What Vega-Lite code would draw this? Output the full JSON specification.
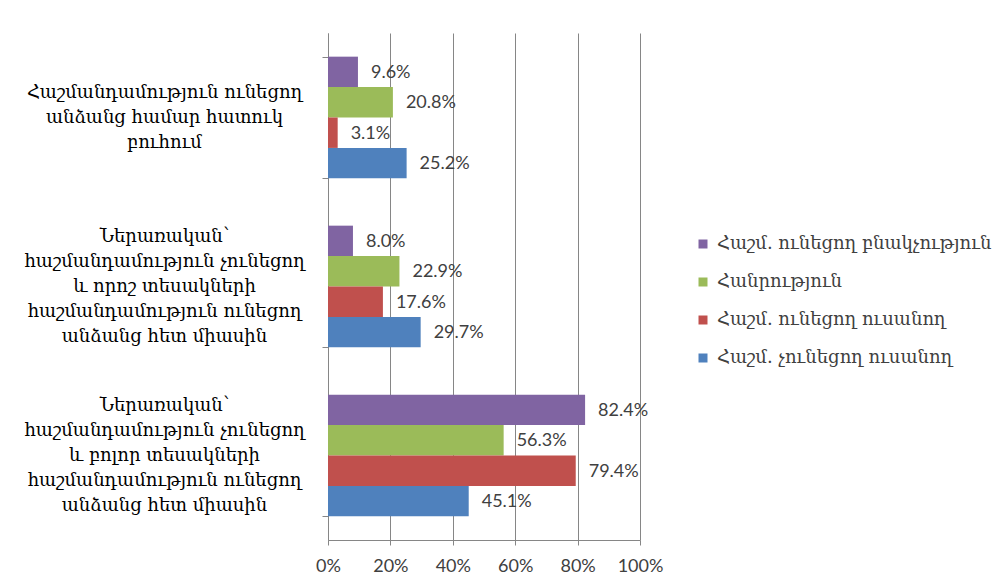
{
  "$schema": "https://vega.github.io/schema/vega-lite/v6.json",
  "width": 312,
  "height": 507,
  "autosize": "none",
  "padding": {"left": 328, "top": 33, "right": 361, "bottom": 44},
  "background": "white",
  "config": {"view": {"stroke": null}},
  "data": {
    "values": [
      {"cat": "Հաշմանդամություն ունեցող|անձանց համար հատուկ|բուհում", "series": "Հաշմ. ունեցող բնակչություն", "value": 0.096},
      {"cat": "Հաշմանդամություն ունեցող|անձանց համար հատուկ|բուհում", "series": "Հանրություն", "value": 0.208},
      {"cat": "Հաշմանդամություն ունեցող|անձանց համար հատուկ|բուհում", "series": "Հաշմ. ունեցող ուսանող", "value": 0.031},
      {"cat": "Հաշմանդամություն ունեցող|անձանց համար հատուկ|բուհում", "series": "Հաշմ. չունեցող ուսանող", "value": 0.252},
      {"cat": "Ներառական՝|հաշմանդամություն չունեցող|և որոշ տեսակների|հաշմանդամություն ունեցող|անձանց հետ միասին", "series": "Հաշմ. ունեցող բնակչություն", "value": 0.08},
      {"cat": "Ներառական՝|հաշմանդամություն չունեցող|և որոշ տեսակների|հաշմանդամություն ունեցող|անձանց հետ միասին", "series": "Հանրություն", "value": 0.229},
      {"cat": "Ներառական՝|հաշմանդամություն չունեցող|և որոշ տեսակների|հաշմանդամություն ունեցող|անձանց հետ միասին", "series": "Հաշմ. ունեցող ուսանող", "value": 0.176},
      {"cat": "Ներառական՝|հաշմանդամություն չունեցող|և որոշ տեսակների|հաշմանդամություն ունեցող|անձանց հետ միասին", "series": "Հաշմ. չունեցող ուսանող", "value": 0.297},
      {"cat": "Ներառական՝|հաշմանդամություն չունեցող|և բոլոր տեսակների|հաշմանդամություն ունեցող|անձանց հետ միասին", "series": "Հաշմ. ունեցող բնակչություն", "value": 0.824},
      {"cat": "Ներառական՝|հաշմանդամություն չունեցող|և բոլոր տեսակների|հաշմանդամություն ունեցող|անձանց հետ միասին", "series": "Հանրություն", "value": 0.563},
      {"cat": "Ներառական՝|հաշմանդամություն չունեցող|և բոլոր տեսակների|հաշմանդամություն ունեցող|անձանց հետ միասին", "series": "Հաշմ. ունեցող ուսանող", "value": 0.794},
      {"cat": "Ներառական՝|հաշմանդամություն չունեցող|և բոլոր տեսակների|հաշմանդամություն ունեցող|անձանց հետ միասին", "series": "Հաշմ. չունեցող ուսանող", "value": 0.451}
    ]
  },
  "encoding": {
    "y": {
      "field": "cat",
      "type": "nominal",
      "sort": null,
      "scale": {"paddingInner": 0.28, "paddingOuter": 0.14},
      "axis": {
        "title": null,
        "labelExpr": "split(datum.label, '|')",
        "labelAlign": "center",
        "labelBaseline": "middle",
        "labelOffset": {"condition": {"test": "length(split(datum.value, '|')) == 3", "value": -25}, "value": -50},
        "labelPadding": 158,
        "labelLineHeight": 25,
        "labelFont": "DejaVu Serif",
        "labelFontSize": 18,
        "labelColor": "#000000",
        "labelLimit": 0,
        "labelOverlap": false,
        "tickBand": "extent",
        "tickSize": 6,
        "tickColor": "#868686",
        "domainColor": "#868686",
        "grid": false
      }
    },
    "yOffset": {
      "field": "series",
      "type": "nominal",
      "sort": ["Հաշմ. ունեցող բնակչություն", "Հանրություն", "Հաշմ. ունեցող ուսանող", "Հաշմ. չունեցող ուսանող"],
      "scale": {"paddingInner": 0, "paddingOuter": 0}
    },
    "x": {
      "field": "value",
      "type": "quantitative",
      "scale": {"domain": [0, 1], "nice": false},
      "axis": {
        "title": null,
        "values": [0, 0.2, 0.4, 0.6, 0.8, 1],
        "format": ".0%",
        "grid": true,
        "gridColor": "#868686",
        "domainColor": "#868686",
        "tickColor": "#868686",
        "tickSize": 5,
        "labelFont": "Lato",
        "labelFontSize": 18,
        "labelColor": "#404040",
        "labelPadding": 12,
        "labelOverlap": false,
        "labelFlush": false
      }
    }
  },
  "layer": [
    {
      "mark": {"type": "bar"},
      "encoding": {
        "color": {
          "field": "series",
          "type": "nominal",
          "scale": {
            "domain": ["Հաշմ. ունեցող բնակչություն", "Հանրություն", "Հաշմ. ունեցող ուսանող", "Հաշմ. չունեցող ուսանող"],
            "range": ["#8064A2", "#9BBB59", "#C0504D", "#4F81BD"]
          },
          "legend": {
            "title": null,
            "orient": "none",
            "legendX": 366,
            "legendY": 202,
            "symbolType": "square",
            "symbolSize": 81,
            "symbolStrokeWidth": 0,
            "labelFont": "DejaVu Serif",
            "labelFontSize": 18,
            "labelColor": "#404040",
            "labelLimit": 0,
            "rowPadding": 20,
            "labelOffset": 5
          }
        }
      }
    },
    {
      "mark": {"type": "text", "align": "left", "baseline": "middle", "dx": 13, "dy": 1, "font": "Lato", "fontSize": 18, "color": "#404040"},
      "encoding": {
        "text": {"field": "value", "type": "quantitative", "format": ".1%"}
      }
    }
  ]
}
